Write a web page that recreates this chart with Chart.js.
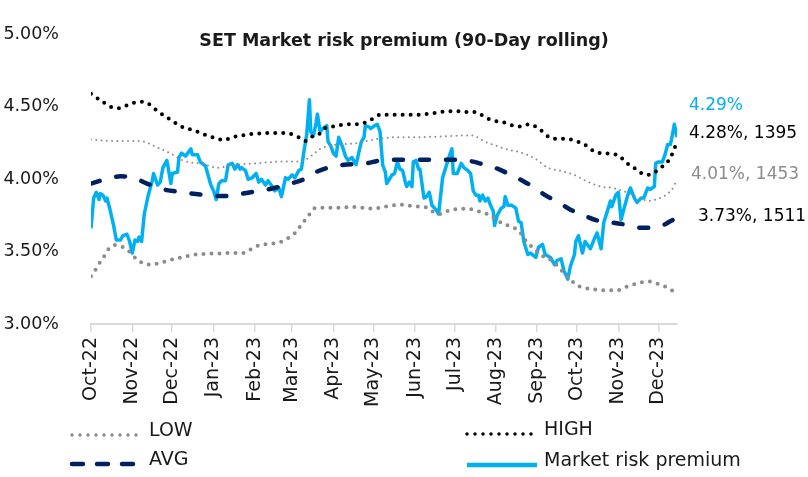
<!DOCTYPE html>
<html>
<head>
<meta charset="utf-8">
<title>SET Market risk premium</title>
<script src="https://cdn.jsdelivr.net/npm/chart.js@4.4.0/dist/chart.umd.min.js"></script>
<style>
    html, body { margin: 0; padding: 0; background: #fff; }
    #wrap { width: 808px; height: 477px; }
</style>
</head>
<body>
<div id="wrap"><canvas id="mrpChart" width="808" height="477"></canvas></div>
<script>
// --- 1. DATA (x = days since 1 Oct 2022) ---
const monthLabels = ['Oct-22', 'Nov-22', 'Dec-22', 'Jan-23', 'Feb-23', 'Mar-23', 'Apr-23', 'May-23',
                     'Jun-23', 'Jul-23', 'Aug-23', 'Sep-23', 'Oct-23', 'Nov-23', 'Dec-23'];
const yTicks = [3.0, 3.5, 4.0, 4.5, 5.0];
const lastDay = 440; // 15 Dec 2023

const mrpDays = [0, 2, 4, 6, 7, 9, 11, 12, 14, 17, 19, 22, 24, 27, 29, 31, 33, 35, 36, 38,
    40, 43, 46, 47, 50, 52, 54, 57, 60, 61, 65, 66, 68, 71, 75, 76, 80, 82, 86, 90,
    92, 94, 96, 98, 101, 103, 106, 108, 110, 112, 113, 116, 118, 121, 124, 126, 128, 131, 133, 136,
    138, 141, 143, 146, 148, 151, 153, 156, 158, 160, 162, 163, 164, 165, 167, 169, 170, 172, 174, 177,
    178, 180, 182, 184, 186, 189, 191, 193, 196, 199, 201, 203, 205, 206, 209, 210, 213, 215, 217, 219,
    221, 222, 224, 226, 228, 230, 232, 234, 236, 237, 239, 241, 242, 244, 246, 247, 250, 252, 254, 256,
    259, 261, 264, 266, 269, 271, 272, 275, 278, 280, 283, 285, 287, 289, 291, 292, 294, 296, 298, 300,
    302, 303, 305, 308, 310, 311, 313, 316, 319, 321, 323, 325, 328, 330, 334, 336, 339, 341, 345, 348,
    350, 353, 355, 358, 360, 363, 364, 366, 369, 371, 375, 378, 380, 383, 385, 388, 390, 391, 394, 396,
    398, 400, 403, 405, 408, 410, 413, 415, 418, 420, 423, 424, 426, 429, 431, 433, 435, 436, 438, 440];
const mrpValues = [3.66, 3.87, 3.91, 3.86, 3.90, 3.89, 3.85, 3.87, 3.80, 3.68, 3.58, 3.58, 3.61, 3.62, 3.57, 3.49, 3.58, 3.57, 3.60, 3.57,
    3.76, 3.89, 3.99, 4.04, 3.96, 3.98, 4.08, 4.13, 3.97, 4.04, 4.05, 4.15, 4.18, 4.16, 4.21, 4.17, 4.17, 4.12, 4.09, 3.96,
    3.92, 3.86, 3.97, 3.99, 3.99, 4.10, 4.11, 4.07, 4.10, 4.07, 4.08, 4.06, 4.00, 4.01, 4.04, 3.98, 4.00, 3.96, 3.99, 3.95,
    3.92, 3.94, 3.88, 4.01, 4.00, 4.03, 4.01, 4.06, 4.07, 4.20, 4.31, 4.43, 4.55, 4.33, 4.30, 4.39, 4.45, 4.33, 4.35, 4.37,
    4.26, 4.23, 4.18, 4.16, 4.29, 4.22, 4.16, 4.13, 4.15, 4.10, 4.18, 4.26, 4.29, 4.37, 4.36, 4.35, 4.37, 4.38, 4.33, 4.10,
    4.05, 3.97, 4.00, 4.03, 4.04, 4.12, 4.07, 4.06, 3.98, 3.95, 3.98, 3.95, 4.12, 4.13, 4.07, 4.07, 3.87, 3.88, 3.91, 3.82,
    3.79, 3.76, 4.01, 4.07, 4.16, 4.21, 4.04, 4.04, 4.11, 4.08, 4.06, 4.04, 3.92, 3.89, 3.89, 3.85, 3.89, 3.85, 3.87, 3.82,
    3.78, 3.68, 3.75, 3.80, 3.81, 3.88, 3.82, 3.82, 3.80, 3.71, 3.70, 3.57, 3.48, 3.49, 3.46, 3.53, 3.55, 3.48, 3.46, 3.41,
    3.44, 3.45, 3.37, 3.31, 3.40, 3.48, 3.57, 3.61, 3.49, 3.57, 3.52, 3.59, 3.63, 3.52, 3.70, 3.79, 3.85, 3.81, 3.89, 3.91,
    3.72, 3.79, 3.89, 3.94, 3.87, 3.84, 3.87, 3.87, 3.94, 3.93, 3.95, 4.11, 4.12, 4.12, 4.17, 4.24, 4.24, 4.28, 4.38, 4.29];

const highDays = [0, 8, 15, 21, 27, 33, 39, 45, 50, 55, 60, 65, 70, 77, 82, 88, 95, 100, 106, 112,
    118, 125, 132, 138, 144, 151, 156, 161, 166, 171, 176, 182, 188, 194, 201, 207, 212, 217, 224, 231,
    237, 243, 250, 256, 262, 269, 275, 281, 288, 293, 299, 305, 311, 317, 323, 329, 339, 344, 350, 356,
    362, 368, 374, 378, 385, 391, 397, 401, 407, 411, 417, 422, 427, 433, 438, 440];
const highValues = [4.59, 4.54, 4.50, 4.49, 4.51, 4.53, 4.535, 4.51, 4.47, 4.44, 4.41, 4.38, 4.355, 4.34, 4.32, 4.30, 4.28, 4.27, 4.29, 4.30,
    4.31, 4.315, 4.32, 4.32, 4.32, 4.31, 4.29, 4.265, 4.295, 4.31, 4.355, 4.365, 4.375, 4.38, 4.38, 4.395, 4.42, 4.445, 4.445, 4.445,
    4.445, 4.445, 4.45, 4.455, 4.465, 4.47, 4.47, 4.465, 4.465, 4.445, 4.415, 4.40, 4.39, 4.37, 4.365, 4.38, 4.33, 4.29, 4.28, 4.28,
    4.27, 4.25, 4.22, 4.19, 4.18, 4.175, 4.16, 4.12, 4.085, 4.055, 4.03, 4.04, 4.075, 4.12, 4.21, 4.27];

const avgDays = [0, 7, 15, 22, 30, 35, 42, 50, 57, 65, 72, 82, 92, 102, 110, 120, 130, 140, 150, 160,
    168, 180, 190, 200, 207, 217, 230, 240, 255, 270, 282, 290, 297, 306, 315, 325, 333, 342, 351, 360,
    370, 382, 392, 402, 412, 422, 430, 436, 440];
const avgValues = [3.97, 3.99, 4.01, 4.02, 4.015, 4.00, 3.97, 3.945, 3.925, 3.915, 3.905, 3.895, 3.885, 3.885, 3.895, 3.91, 3.925, 3.945, 3.97, 4.00,
    4.045, 4.085, 4.10, 4.105, 4.11, 4.13, 4.135, 4.135, 4.135, 4.135, 4.13, 4.115, 4.095, 4.07, 4.03, 3.985, 3.94, 3.885, 3.84, 3.79,
    3.75, 3.71, 3.70, 3.685, 3.665, 3.665, 3.685, 3.715, 3.73];

const lowDays = [0, 3, 7, 10, 13, 18, 24, 30, 34, 39, 45, 51, 57, 63, 70, 77, 82, 89, 96, 102,
    108, 115, 120, 126, 132, 138, 144, 150, 155, 158, 162, 168, 175, 181, 187, 194, 200, 206, 213, 219,
    226, 232, 238, 244, 251, 257, 262, 268, 274, 281, 287, 293, 299, 304, 309, 315, 321, 327, 332, 337,
    341, 346, 351, 355, 360, 364, 370, 376, 383, 389, 395, 401, 407, 413, 419, 425, 431, 436, 440];
const lowValues = [3.33, 3.37, 3.43, 3.47, 3.515, 3.545, 3.53, 3.49, 3.45, 3.42, 3.41, 3.42, 3.435, 3.45, 3.465, 3.478, 3.482, 3.487, 3.487, 3.49,
    3.49, 3.49, 3.515, 3.543, 3.552, 3.558, 3.573, 3.606, 3.645, 3.69, 3.73, 3.80, 3.803, 3.803, 3.803, 3.808, 3.808, 3.80, 3.797, 3.808,
    3.819, 3.825, 3.819, 3.812, 3.808, 3.775, 3.76, 3.782, 3.793, 3.797, 3.79, 3.771, 3.754, 3.721, 3.695, 3.673, 3.645, 3.569, 3.526, 3.482,
    3.461, 3.438, 3.395, 3.352, 3.308, 3.272, 3.25, 3.243, 3.233, 3.233, 3.233, 3.254, 3.272, 3.287, 3.293, 3.28, 3.259, 3.233, 3.215];

// thin grey dotted band (ends at 4.01%), not in the legend
const bandDays = [0, 7, 20, 32, 40, 47, 55, 62, 68, 75, 82, 88, 95, 102, 110, 120, 132, 145, 157, 161,
    167, 172, 179, 187, 197, 207, 217, 230, 239, 264, 285, 289, 294, 304, 314, 324, 333, 343, 353, 363,
    373, 383, 393, 403, 411, 419, 425, 432, 437, 440];
const bandValues = [4.275, 4.268, 4.264, 4.264, 4.259, 4.231, 4.199, 4.166, 4.134, 4.116, 4.107, 4.094, 4.079, 4.09, 4.101, 4.107, 4.116, 4.122, 4.122, 4.134,
    4.173, 4.21, 4.231, 4.242, 4.246, 4.264, 4.281, 4.29, 4.29, 4.296, 4.303, 4.296, 4.268, 4.231, 4.203, 4.181, 4.145, 4.079, 4.057, 4.029,
    3.982, 3.949, 3.938, 3.906, 3.873, 3.851, 3.862, 3.894, 3.94, 4.00];

const endLabels = ['4.29%', '4.28%, 1395', '4.01%, 1453', '3.73%, 1511'];

// --- 2. HELPERS ---
const DAY = 86400000;
const monthTicks = monthLabels.map((_, i) => (Date.UTC(2022, 9 + i, 1) - Date.UTC(2022, 9, 1)) / DAY);
const toPoints = (days, vals) => days.map((d, i) => ({ x: d, y: vals[i] }));

const C_MRP = '#00b0f0';
const C_AVG = '#002060';
const C_HIGH = '#000000';
const C_GREY = '#8c8c8c';
const C_TEXT = '#1a1a1a';
const FONT = '"DejaVu Sans", sans-serif';

// --- 3. TITLE / END LABELS / LEGEND PLUGIN ---
const decorPlugin = {
    id: 'decor',
    afterDraw(chart) {
        const ctx = chart.ctx;
        const ds = chart.data.datasets;
        ctx.save();

        // title
        ctx.fillStyle = C_TEXT;
        ctx.font = 'bold 17.5px ' + FONT;
        ctx.textAlign = 'center';
        ctx.textBaseline = 'alphabetic';
        ctx.fillText('SET Market risk premium (90-Day rolling)', 404, 46);

        // labels at right end
        ctx.textAlign = 'left';
        ctx.font = '17px ' + FONT;
        const endPos = [[689, 110, C_MRP], [689, 138, C_HIGH], [691, 179, C_GREY], [698, 221, C_HIGH]];
        endLabels.forEach((t, i) => {
            ctx.fillStyle = endPos[i][2];
            ctx.fillText(t, endPos[i][0], endPos[i][1]);
        });

        // legend
        const items = [
            { idx: 0, x: 72, y: 435 },
            { idx: 2, x: 467, y: 434 },
            { idx: 3, x: 72, y: 464 },
            { idx: 4, x: 467, y: 465 }
        ];
        items.forEach(it => {
            const d = ds[it.idx];
            ctx.beginPath();
            ctx.strokeStyle = d.borderColor;
            ctx.lineWidth = d.legendWidth || d.borderWidth;
            ctx.lineCap = d.borderCapStyle || 'butt';
            ctx.setLineDash(d.legendDash || []);
            ctx.moveTo(it.x, it.y);
            ctx.lineTo(it.x + 70, it.y);
            ctx.stroke();
            ctx.setLineDash([]);
            ctx.fillStyle = C_TEXT;
            ctx.font = '19px ' + FONT;
            ctx.textBaseline = 'middle';
            ctx.fillText(d.label, it.x + 77, it.y - 4);
        });
        ctx.restore();
    }
};

// --- 4. CHART ---
Chart.defaults.font.family = FONT;
Chart.defaults.color = C_TEXT;

new Chart(document.getElementById('mrpChart'), {
    type: 'line',
    data: {
        datasets: [
            { label: 'LOW', data: toPoints(lowDays, lowValues), borderColor: C_GREY, borderWidth: 4,
              borderDash: [0, 8], borderCapStyle: 'round', legendDash: [0, 8], legendWidth: 3.5,
              tension: 0.4, cubicInterpolationMode: 'monotone', order: 2 },
            { label: 'band', data: toPoints(bandDays, bandValues), borderColor: C_GREY, borderWidth: 2,
              borderDash: [0, 5.3], borderCapStyle: 'round',
              tension: 0.4, cubicInterpolationMode: 'monotone', order: 2 },
            { label: 'HIGH', data: toPoints(highDays, highValues), borderColor: C_HIGH, borderWidth: 4,
              borderDash: [0, 8], borderCapStyle: 'round', legendDash: [0, 8], legendWidth: 3.5,
              tension: 0.4, cubicInterpolationMode: 'monotone', order: 1 },
            { label: 'AVG', data: toPoints(avgDays, avgValues), borderColor: C_AVG, borderWidth: 4.5,
              borderDash: [9, 17], borderCapStyle: 'round', legendDash: [11, 14],
              tension: 0.4, cubicInterpolationMode: 'monotone', order: 0 },
            { label: 'Market risk premium', data: toPoints(mrpDays, mrpValues), borderColor: C_MRP, borderWidth: 3.5,
              borderJoinStyle: 'round', legendWidth: 4.5, tension: 0, order: 3 }
        ]
    },
    options: {
        responsive: false,
        animation: false,
        devicePixelRatio: 1,
        pointRadius: 0,
        elements: { point: { radius: 0 } },
        layout: { padding: { top: 17, right: 131, bottom: 0, left: 0 } },
        plugins: { legend: { display: false }, tooltip: { enabled: false }, title: { display: false } },
        scales: {
            x: {
                type: 'linear',
                min: 0,
                max: lastDay,
                afterFit: (s) => { s.height = 153; },
                afterBuildTicks: (s) => { s.ticks = monthTicks.map(v => ({ value: v })); },
                border: { display: true, color: '#d9d9d9', width: 2 },
                grid: { display: true, drawOnChartArea: false, drawTicks: true, tickLength: 8, color: '#d9d9d9', lineWidth: 1.5 },
                ticks: {
                    autoSkip: false, minRotation: 90, maxRotation: 90, padding: 5,
                    font: { size: 19 }, color: C_TEXT,
                    callback: (v, i) => monthLabels[i]
                }
            },
            y: {
                min: yTicks[0],
                max: yTicks[yTicks.length - 1],
                afterFit: (s) => { s.width = 91; },
                afterBuildTicks: (s) => { s.ticks = yTicks.map(v => ({ value: v })); },
                border: { display: false },
                grid: { display: false },
                ticks: { padding: 24, font: { size: 17.5 }, color: C_TEXT, callback: v => v.toFixed(2) + '%' }
            }
        }
    },
    plugins: [decorPlugin]
});
</script>
</body>
</html>
